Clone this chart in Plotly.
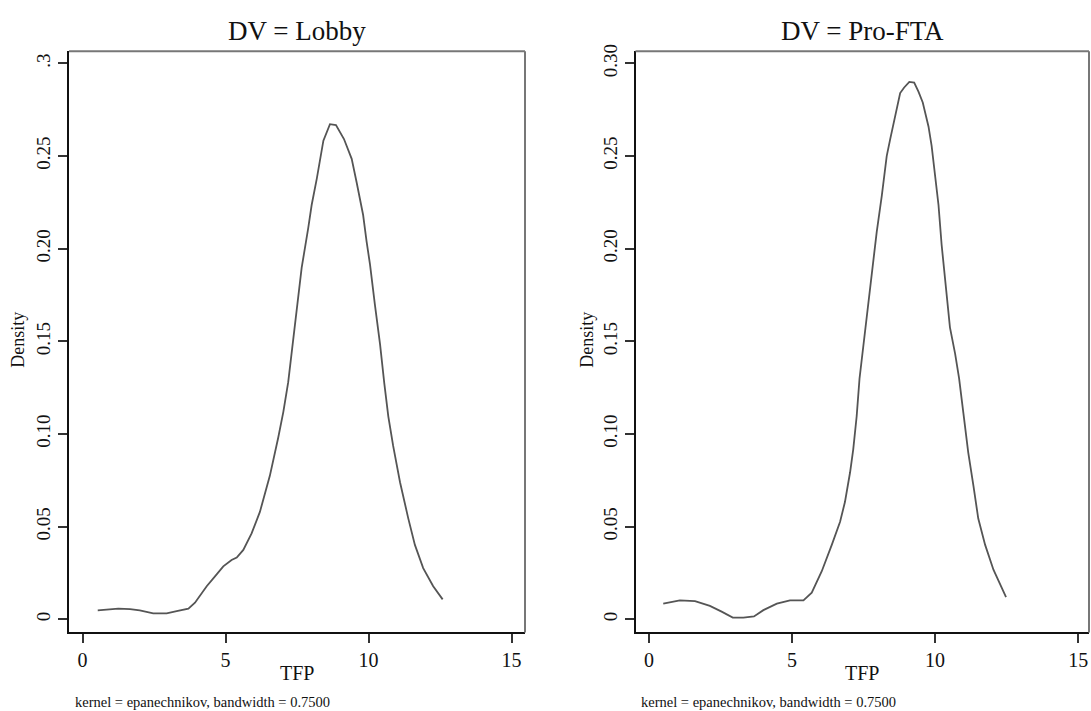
import plotly.graph_objects as go

# Left panel: DV = Lobby (kernel density of TFP)
lobby_x = [0.53, 1.25, 1.66, 2.0, 2.47, 2.94, 3.29, 3.70, 3.93, 4.34, 4.63, 4.92, 5.21, 5.39, 5.62,
           5.91, 6.20, 6.55, 6.84, 7.02, 7.19, 7.31, 7.55, 7.66, 7.89, 8.01, 8.19, 8.36, 8.42, 8.65,
           8.86, 9.14, 9.41, 9.58, 9.81, 9.93, 10.05, 10.22, 10.40, 10.55, 10.69, 10.86, 11.10,
           11.39, 11.62, 11.91, 12.26, 12.59]
lobby_y = [0.0049, 0.0058, 0.0056, 0.0049, 0.0033, 0.0033, 0.0045, 0.0058, 0.0090, 0.0179, 0.0232,
           0.0286, 0.0321, 0.0334, 0.0375, 0.0464, 0.0580, 0.0776, 0.0980, 0.1120, 0.1280, 0.1434,
           0.1737, 0.1897, 0.2111, 0.2236, 0.2378, 0.2520, 0.2583, 0.2672, 0.2667, 0.2592, 0.2485,
           0.2360, 0.2182, 0.2040, 0.1915, 0.1700, 0.1487, 0.1274, 0.1096, 0.0936, 0.0740, 0.0544,
           0.0402, 0.0277, 0.0179, 0.0108]

# Right panel: DV = Pro-FTA
fta_x = [0.50, 1.08, 1.61, 2.13, 2.54, 2.93, 3.30, 3.67, 4.00, 4.47, 4.93, 5.40, 5.69, 6.04, 6.39,
         6.68, 6.85, 7.03, 7.14, 7.26, 7.36, 7.49, 7.63, 7.79, 7.96, 8.14, 8.31, 8.43, 8.60, 8.78,
         8.92, 9.10, 9.27, 9.42, 9.57, 9.77, 9.88, 10.00, 10.12, 10.23, 10.35, 10.52, 10.70, 10.84,
         10.99, 11.16, 11.34, 11.51, 11.75, 12.04, 12.48]
fta_y = [0.0085, 0.0103, 0.0099, 0.0073, 0.0042, 0.0010, 0.0010, 0.0016, 0.0050, 0.0085, 0.0103,
         0.0103, 0.0144, 0.0260, 0.0402, 0.0527, 0.0633, 0.0794, 0.0918, 0.1096, 0.1300, 0.1470,
         0.1665, 0.1860, 0.2090, 0.2288, 0.2500, 0.2590, 0.2716, 0.2840, 0.2870, 0.2900, 0.2897,
         0.2848, 0.2789, 0.2660, 0.2555, 0.2378, 0.2236, 0.2020, 0.1825, 0.1576, 0.1434, 0.1300,
         0.1113, 0.0900, 0.0722, 0.0544, 0.0402, 0.0268, 0.0120]

titles = ["DV = Lobby", "DV = Pro-FTA"]
ytick_vals = [0, 0.05, 0.10, 0.15, 0.20, 0.25, 0.30]
ytick_left = ["0", "0.05", "0.10", "0.15", "0.20", "0.25", ".3"]
ytick_right = ["0", "0.05", "0.10", "0.15", "0.20", "0.25", "0.30"]
xtick_vals = [0, 5, 10, 15]
note = "kernel = epanechnikov, bandwidth = 0.7500"

FONT = "Liberation Serif"
W, H = 1091, 711
line_col = "#555555"

fig = go.Figure()
fig.add_trace(go.Scatter(x=lobby_x, y=lobby_y, mode="lines", line=dict(color=line_col, width=1.8),
                         xaxis="x", yaxis="y", showlegend=False))
fig.add_trace(go.Scatter(x=fta_x, y=fta_y, mode="lines", line=dict(color=line_col, width=1.8),
                         xaxis="x2", yaxis="y2", showlegend=False))

left_dom = [69 / W, 525 / W]
right_dom = [635.5 / W, 1089 / W]
ydom = [(H - 631.6) / H, (H - 44.8) / H]

xcommon = dict(tickvals=xtick_vals, ticks="outside", ticklen=9, tickwidth=1.5, tickcolor="#333",
               showline=True, linecolor="#111", linewidth=2, showgrid=False, zeroline=False,
               tickfont=dict(family=FONT, size=20, color="#111"))
ycommon = dict(tickvals=ytick_vals, ticks="outside", ticklen=9, tickwidth=1.5, tickcolor="#333",
               showline=True, linecolor="#111", linewidth=2, showgrid=False, zeroline=False,
               tickangle=-90, range=[-0.007, 0.3065],
               tickfont=dict(family=FONT, size=19, color="#111"))

fig.update_layout(
    width=W, height=H, margin=dict(l=0, r=0, t=0, b=0),
    paper_bgcolor="white", plot_bgcolor="white",
    xaxis=dict(domain=left_dom, range=[-0.475, 15.47], anchor="y", **xcommon),
    yaxis=dict(domain=ydom, anchor="x", ticktext=ytick_left, **ycommon),
    xaxis2=dict(domain=right_dom, range=[-0.47, 15.38], anchor="y2", **xcommon),
    yaxis2=dict(domain=ydom, anchor="x2", ticktext=ytick_right, **ycommon),
)

shapes = []
for xr, yr in [("x domain", "y domain"), ("x2 domain", "y2 domain")]:
    shapes.append(dict(type="line", xref=xr, yref=yr, x0=0, x1=1, y0=1, y1=1,
                       line=dict(color="#777", width=2)))
    shapes.append(dict(type="line", xref=xr, yref=yr, x0=1, x1=1, y0=0, y1=1,
                       line=dict(color="#777", width=2)))
fig.update_layout(shapes=shapes)

ann = []
centers = [(left_dom[0] + left_dom[1]) / 2, (right_dom[0] + right_dom[1]) / 2]
for i, c in enumerate(centers):
    ann.append(dict(text=titles[i], x=c, y=(H - 24) / H, xref="paper", yref="paper",
                    showarrow=False, xanchor="center", yanchor="middle",
                    font=dict(family=FONT, size=27, color="#111")))
    ann.append(dict(text="TFP", x=c, y=(H - 673) / H, xref="paper", yref="paper",
                    showarrow=False, xanchor="center", yanchor="middle",
                    font=dict(family=FONT, size=20, color="#111")))
for xpx in [18, 587]:
    ann.append(dict(text="Density", x=xpx / W, y=(H - 336) / H, xref="paper", yref="paper",
                    showarrow=False, xanchor="center", yanchor="middle", textangle=-90,
                    font=dict(family=FONT, size=18, color="#111")))
for xpx in [73, 639]:
    ann.append(dict(text=note, x=xpx / W, y=(H - 702) / H, xref="paper", yref="paper",
                    showarrow=False, xanchor="left", yanchor="middle",
                    font=dict(family=FONT, size=14.5, color="#111")))
fig.update_layout(annotations=ann)

fig.write_html("out.html")
